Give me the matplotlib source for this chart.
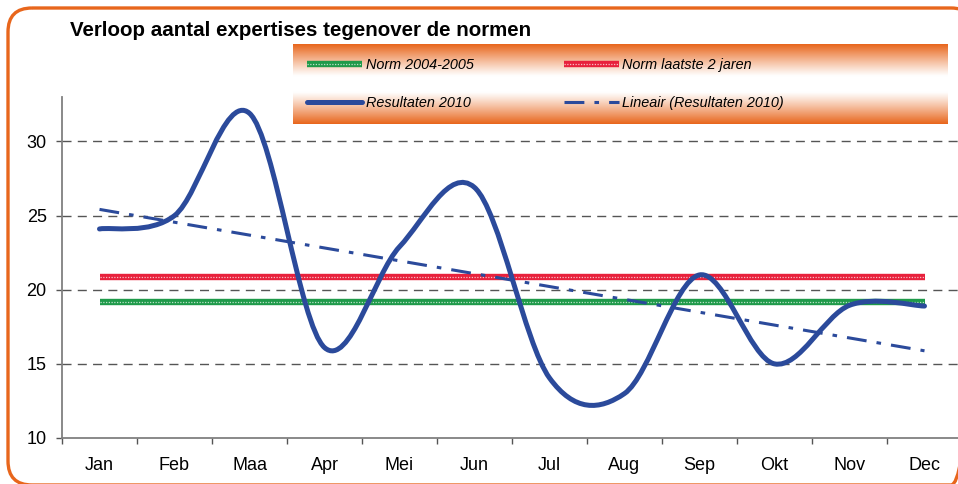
import numpy as np
import matplotlib
matplotlib.use("Agg")
import matplotlib.pyplot as plt
from matplotlib.path import Path
from matplotlib.patches import PathPatch, FancyBboxPatch
from matplotlib.lines import Line2D
from matplotlib.legend_handler import HandlerTuple

plt.rcParams['font.family'] = ['Liberation Sans', 'DejaVu Sans']

months = ['Jan', 'Feb', 'Maa', 'Apr', 'Mei', 'Jun', 'Jul', 'Aug', 'Sep', 'Okt', 'Nov', 'Dec']
resultaten = [24.1, 25.0, 31.9, 16.1, 22.9, 26.9, 14.05, 13.0, 21.0, 15.0, 18.95, 18.9]
norm_0405 = [19.2] * 12
norm_laatste = [20.85] * 12

title = 'Verloop aantal expertises tegenover de normen'
labels = ['Norm 2004-2005', 'Resultaten 2010', 'Norm laatste 2 jaren', 'Lineair (Resultaten 2010)']

blue = '#2b4a9b'
green = '#1f9a4a'
red = '#e8213c'
orange = '#e8661c'

W, H = 958, 484
fig = plt.figure(figsize=(W / 100, H / 100), dpi=100)

# background axes in pixel units, for the rounded orange frame
bg = fig.add_axes([0, 0, 1, 1], zorder=-1)
bg.set_xlim(0, W)
bg.set_ylim(H, 0)
bg.set_axis_off()
bg.add_patch(FancyBboxPatch((8, 8), 967, 477, boxstyle='round,pad=0,rounding_size=24',
                            fill=False, edgecolor=orange, linewidth=2.4))

fig.text(70 / W, 1 - 30 / H, title, fontsize=14.8, fontweight='bold',
         va='center', ha='left')

ax = fig.add_axes([62 / W, 1 - 438 / H, 900 / W, (438 - 97) / H])
ax.patch.set_alpha(0)
x = np.arange(len(months))

# norm lines with a dotted texture
ax.plot(x, norm_0405, color=green, lw=4.6, solid_capstyle='butt', zorder=3)
ax.plot(x, norm_0405, color='white', lw=0.9, ls=(0, (1, 1.2)), alpha=0.7, zorder=3.1)
ax.plot(x, norm_laatste, color=red, lw=4.6, solid_capstyle='butt', zorder=3)
ax.plot(x, norm_laatste, color='white', lw=0.9, ls=(0, (1, 1.2)), alpha=0.7, zorder=3.1)

# smoothed line (Excel style bezier through the monthly points)
y = np.array(resultaten, dtype=float)
pts = np.column_stack([x, y])
verts = [pts[0]]
codes = [Path.MOVETO]
n = len(pts)
for i in range(n - 1):
    p_prev = pts[i - 1] if i > 0 else pts[i]
    p_next2 = pts[i + 2] if i + 2 < n else pts[i + 1]
    c1 = pts[i] + (pts[i + 1] - p_prev) / 6
    c2 = pts[i + 1] - (p_next2 - pts[i]) / 6
    verts += [c1, c2, pts[i + 1]]
    codes += [Path.CURVE4] * 3
ax.add_patch(PathPatch(Path(verts, codes), fill=False, edgecolor=blue,
                       lw=3.6, capstyle='round', joinstyle='round', zorder=4))

# linear trend line
coef = np.polyfit(x, y, 1)
trend_ls = (0, (6.5, 3.3, 1.5, 3.3))
ax.plot(x, np.polyval(coef, x), color=blue, lw=2.2, ls=trend_ls, zorder=4)

ax.set_xlim(-0.5, 11.5)
ax.set_ylim(10, 33)
ax.set_yticks([10, 15, 20, 25, 30])
ax.set_xticks(x)
ax.set_xticklabels(months)
ax.set_xticks(np.arange(-0.5, 12, 1), minor=True)
ax.tick_params(axis='x', which='major', length=0, pad=14, labelsize=13)
ax.tick_params(axis='x', which='minor', length=4, width=1, color='#555555', direction='out')
ax.tick_params(axis='y', length=4, width=1, color='#555555', pad=7, labelsize=13)
for s in ['top', 'right']:
    ax.spines[s].set_visible(False)
for s in ['left', 'bottom']:
    ax.spines[s].set_color('#808080')
    ax.spines[s].set_linewidth(1.3)
for v in [15, 20, 25, 30]:
    ax.axhline(v, color='#555555', lw=1.0, ls=(0, (6.5, 4.5)), zorder=1)

# legend box with orange gradient
lx0, lx1, ly0, ly1 = 293, 948, 44, 124
lax = fig.add_axes([lx0 / W, 1 - ly1 / H, (lx1 - lx0) / W, (ly1 - ly0) / H], zorder=5)
t = np.abs(np.linspace(-1, 1, 200))
t = np.clip((t - 0.2) / 0.8, 0, 1) ** 1.1
c0 = np.array([1.0, 1.0, 1.0])
c1 = np.array(matplotlib.colors.to_rgb(orange))
grad = c0[None, :] * (1 - t[:, None]) + c1[None, :] * t[:, None]
lax.imshow(grad[:, None, :], aspect='auto', extent=[0, 1, 0, 1])
lax.set_axis_off()

h_green = (Line2D([], [], color=green, lw=4.6, solid_capstyle='butt'),
           Line2D([], [], color='white', lw=0.9, ls=(0, (1, 1.2)), alpha=0.7))
h_red = (Line2D([], [], color=red, lw=4.6, solid_capstyle='butt'),
         Line2D([], [], color='white', lw=0.9, ls=(0, (1, 1.2)), alpha=0.7))
h_blue = Line2D([], [], color=blue, lw=3.6, solid_capstyle='round')
h_trend = Line2D([], [], color=blue, lw=2.2, ls=trend_ls)

leg = lax.legend([h_green, h_blue, h_red, h_trend], labels, ncol=2,
                 loc='center left', bbox_to_anchor=(14 / 655, 0.5), frameon=False,
                 prop={'style': 'italic', 'size': 10.4}, handlelength=3.8,
                 handletextpad=0.25, columnspacing=6.25, labelspacing=1.7,
                 borderpad=0, borderaxespad=0,
                 handler_map={tuple: HandlerTuple(ndivide=1)})

fig.savefig('out.png', dpi=100)
